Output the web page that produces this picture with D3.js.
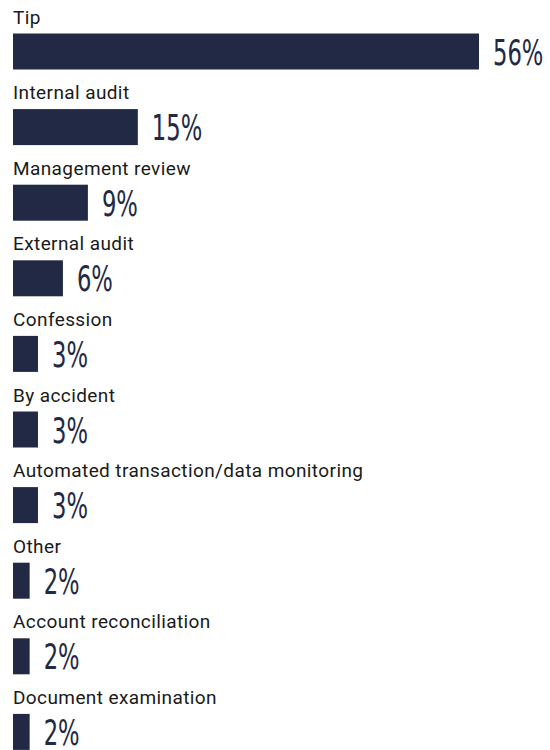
<!DOCTYPE html>
<html><head><meta charset="utf-8">
<script src="https://cdn.jsdelivr.net/npm/d3@7"></script>
<style>body{margin:0;background:#fff}</style>
</head><body>
<svg id="chart" width="550" height="750"></svg>
<script>
const categories = ["Tip","Internal audit","Management review","External audit","Confession","By accident","Automated transaction/data monitoring","Other","Account reconciliation","Document examination"];
const values = [56,15,9,6,3,3,3,2,2,2];
const valueLabels = ["56%","15%","9%","6%","3%","3%","3%","2%","2%","2%"];

const svg = d3.select("#chart");
const left = 13;
const x = d3.scaleLinear().domain([0, 56]).range([0, 466]);
const y = d3.scaleBand().domain(categories).range([0, 756]).paddingInner(0).paddingOuter(0);
const barTop = 33.5, barH = 36;
const color = "#222944";

const g = svg.selectAll("g.row").data(categories).enter().append("g")
  .attr("class","row")
  .attr("transform", d => `translate(0,${y(d)})`);

g.append("text")
  .attr("x", left)
  .attr("y", barTop - 10)
  .attr("font-family","Roboto, 'Open Sans', sans-serif")
  .attr("font-size", 19)
  .attr("letter-spacing", 0.4)
  .attr("fill","#1a1a1a")
  .text(d => d);

g.append("rect")
  .attr("x", left)
  .attr("y", barTop)
  .attr("width", (d,i) => x(values[i]))
  .attr("height", barH)
  .attr("fill", color);

g.append("text")
  .attr("transform", (d,i) => `translate(${left + x(values[i]) + 14},${barTop + barH - 5}) scale(0.7,1)`)
  .attr("font-family","'Liberation Sans Narrow', 'DejaVu Sans Condensed', Roboto, sans-serif")
  .attr("font-size", 36)
  .attr("fill", color)
  .text((d,i) => valueLabels[i]);
</script>
</body></html>
